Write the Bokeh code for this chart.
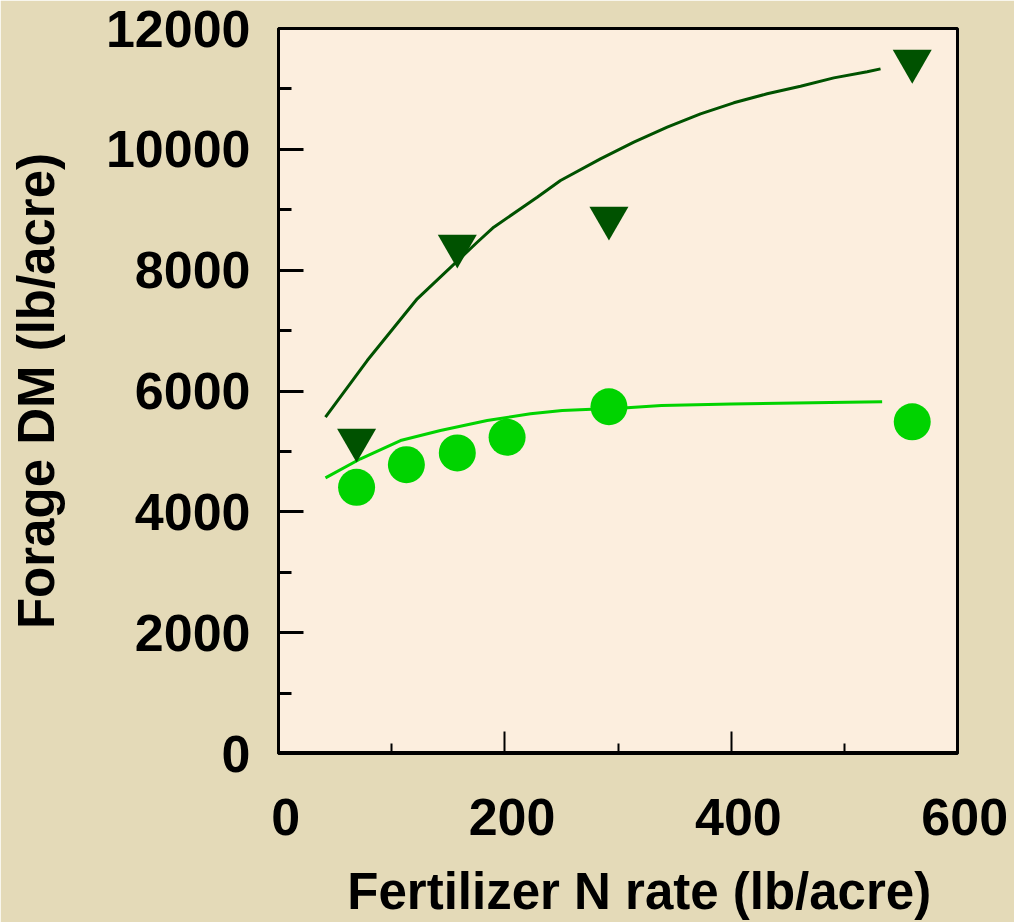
from bokeh.plotting import figure
from bokeh.models import Range1d, FixedTicker, Span
from bokeh.embed import file_html
from bokeh.resources import INLINE

# ---- data ----
x_major_ticks = [0, 200, 400, 600]
x_minor_ticks = [100, 300, 500]
y_major_ticks = [0, 2000, 4000, 6000, 8000, 10000, 12000]
y_minor_ticks = [1000, 3000, 5000, 7000, 9000, 11000]

# dark green inverted triangles
tri_x = [69, 158, 292, 560]
tri_y = [5190, 8400, 8865, 11460]

# light green circles
cir_x = [69, 113, 158, 202, 292, 560]
cir_y = [4405, 4780, 4975, 5235, 5740, 5490]

# fitted curves
dark_fit_x = [41.5, 78.4, 122.6, 175.6, 190.2, 228.6, 249.2, 284.5, 314.0,
              343.5, 372.9, 402.3, 431.8, 461.3, 490.7, 520.2, 532.0]
dark_fit_y = [5566, 6504, 7526, 8462, 8711, 9207, 9484, 9843, 10118,
              10366, 10588, 10770, 10919, 11045, 11183, 11283, 11332]

light_fit_x = [41.5, 72.5, 107.8, 143.1, 184.4, 222.7, 250.7, 308.1,
               338.4, 400.0, 456.8, 533.4]
light_fit_y = [4563, 4878, 5180, 5346, 5511, 5622, 5677, 5722,
               5760, 5785, 5800, 5821]

DARK = "#005200"
LIGHT = "#00D300"
FONT = "Liberation Sans"
NBSP = "\u00a0"

p = figure(width=1014, height=922,
           x_range=Range1d(0, 600), y_range=Range1d(0, 12000),
           output_backend="svg", toolbar_location=None,
           min_border_left=278, min_border_right=57,
           min_border_top=28, min_border_bottom=169)

p.background_fill_color = "#FCEEDE"
p.border_fill_color = "#E4DAB8"
p.outline_line_color = "black"
p.outline_line_width = 3
p.grid.visible = False

# x axis
xa = p.xaxis[0]
xa.ticker = FixedTicker(ticks=x_major_ticks, minor_ticks=x_minor_ticks)
xa.major_label_overrides = {t: NBSP + str(t) for t in x_major_ticks}
xa.axis_label = NBSP * 3 + "Fertilizer N rate (lb/acre)"
xa.axis_line_color = None
xa.major_tick_in = 22
xa.major_tick_out = 0
xa.minor_tick_in = 10
xa.minor_tick_out = 0
xa.major_tick_line_width = 2
xa.minor_tick_line_width = 2
xa.major_label_standoff = 34
xa.axis_label_standoff = 14

# y axis
ya = p.yaxis[0]
ya.ticker = FixedTicker(ticks=y_major_ticks, minor_ticks=y_minor_ticks)
ya.axis_label = "Forage DM (lb/acre)"
ya.axis_line_color = "black"
ya.axis_line_width = 3
ya.major_tick_in = 25
ya.major_tick_out = 0
ya.minor_tick_in = 13
ya.minor_tick_out = 0
ya.major_tick_line_width = 3
ya.minor_tick_line_width = 3
ya.major_label_standoff = 28
ya.axis_label_standoff = 38

for ax in (xa, ya):
    ax.major_tick_line_color = "black"
    ax.minor_tick_line_color = "black"
    ax.major_label_text_font = FONT
    ax.major_label_text_font_style = "bold"
    ax.major_label_text_font_size = "52px"
    ax.major_label_text_color = "black"
    ax.axis_label_text_font = FONT
    ax.axis_label_text_font_style = "bold"
    ax.axis_label_text_font_size = "51px"
    ax.axis_label_text_color = "black"

# thicker bottom edge of the box
p.add_layout(Span(location=0, dimension="width", line_color="black", line_width=5))

# curves
p.line(dark_fit_x, dark_fit_y, line_color=DARK, line_width=3)
p.line(light_fit_x, light_fit_y, line_color=LIGHT, line_width=3)

# markers
p.scatter(cir_x, cir_y, marker="circle", size=37,
          fill_color=LIGHT, line_color=LIGHT, line_width=0)
p.scatter(tri_x, tri_y, marker="inverted_triangle", size=39,
          fill_color=DARK, line_color=DARK, line_width=0)

open("out.html", "w").write(file_html(p, INLINE))
